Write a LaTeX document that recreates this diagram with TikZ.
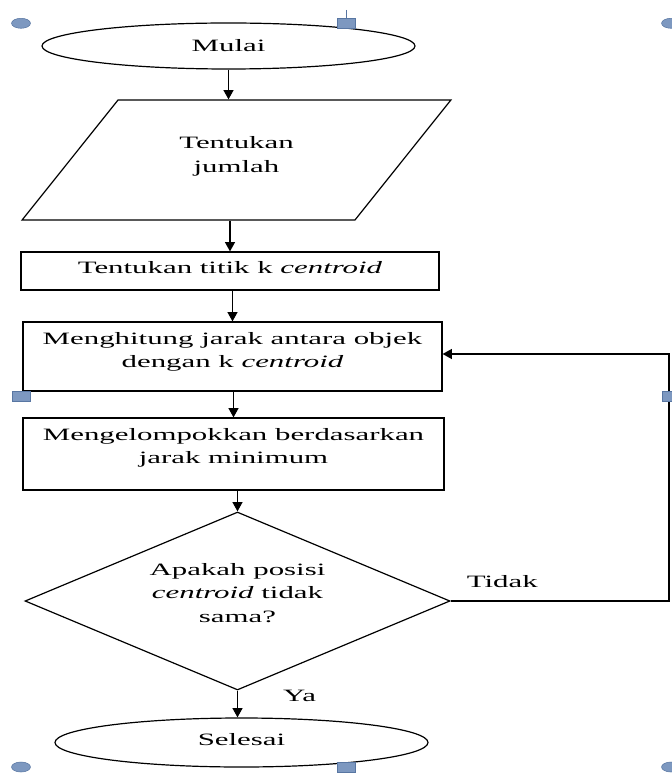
\documentclass[tikz,border=0pt]{standalone}
\usepackage{fontspec}
\setmainfont{Liberation Serif}[FakeStretch=1.78]
\usepackage{tikz}
\usetikzlibrary{arrows.meta, shapes}

\definecolor{handlefill}{RGB}{125,152,192}
\definecolor{handleline}{RGB}{88,118,162}

\begin{document}
\begin{tikzpicture}[x=0.75pt, y=-0.75pt]
            \useasboundingbox (0,0) rectangle (671,773);
            \begin{scope}[every node/.style={draw, line width=0.9pt, inner sep=0pt, align=center,
                                             font=\fontsize{13}{17.6}\selectfont}]
                \node[ellipse, minimum width=279.75pt, minimum height=34.5pt] (mulai) at (228.5,46) {Mulai};
                \node[trapezium, trapezium left angle=45, trapezium right angle=135, trapezium stretches=true,
                      minimum width=321.75pt, minimum height=90pt, text depth=8.1pt] (jumlah) at (236.5,160) {Tentukan\\jumlah};
                \node[rectangle, minimum width=313.5pt, minimum height=28.5pt, text depth=5.9pt] (titik) at (230,271) {Tentukan titik k \textit{centroid}};
                \node[rectangle, minimum width=314.25pt, minimum height=51.75pt, text depth=10pt] (jarak) at (232.5,356.5) {Menghitung jarak antara objek\\dengan k \textit{centroid}};
                \node[rectangle, minimum width=315.75pt, minimum height=54pt, text depth=12.2pt] (kelompok) at (233.5,454) {Mengelompokkan berdasarkan\\jarak minimum};
                \node[diamond, aspect=2.39, minimum width=318.75pt, minimum height=133.5pt, text depth=12.6pt] (posisi) at (237.5,601) {Apakah posisi\\\textit{centroid} tidak\\sama?};
                \node[ellipse, minimum width=279.75pt, minimum height=36.75pt, text depth=5pt] (selesai) at (241.5,742.5) {Selesai};
            \end{scope}

            \begin{scope}[every node/.style={anchor=base west, inner sep=0pt, font=\fontsize{13}{17.6}\selectfont}]
                \node (tidak) at ([xshift=12pt, yshift=10.5pt]posisi.east) {Tidak};
                \node (ya) at ([xshift=34pt, yshift=-8.25pt]posisi.south) {Ya};
            \end{scope}

            \begin{scope}[>={Triangle[black, length=7pt, width=7.5pt]},
                          every edge/.style={draw=black, line width=1pt}]
                \path[->] (mulai) edge (mulai.south |- jumlah.north);
                \path[->] (titik.north |- jumlah.south) edge (titik);
                \path[->] (jarak.north |- titik.south) edge (jarak);
                \path[->] (kelompok.north |- jarak.south) edge (kelompok);
                \path[->] (posisi.north |- kelompok.south) edge (posisi);
                \path[->] (posisi.south) edge (posisi.south |- selesai.north);
                \coordinate (bend) at (669,354);
                \draw[->, line width=1pt] (posisi.east) -| (bend) -- (jarak.east |- bend);
            \end{scope}

            % selection handles
            \begin{scope}[selhandle/.style={fill=handlefill, draw=handleline, line width=0.4pt}]
                \draw[handleline, line width=0.8pt] (346.7,10) -- (346.7,18);
                \foreach \x/\y in {21/23.3, 671/23.3, 21/767, 671/767}
                    \filldraw[selhandle] (\x,\y) ellipse [x radius=7.1pt, y radius=3.75pt];
                \foreach \x/\y in {346/23.3, 21/396.3, 671/396.3, 346/767.5}
                    \filldraw[selhandle] ([xshift=-6.75pt, yshift=-3.75pt]\x,\y) rectangle ++(13.5pt,7.5pt);
            \end{scope}
\end{tikzpicture}
\end{document}
